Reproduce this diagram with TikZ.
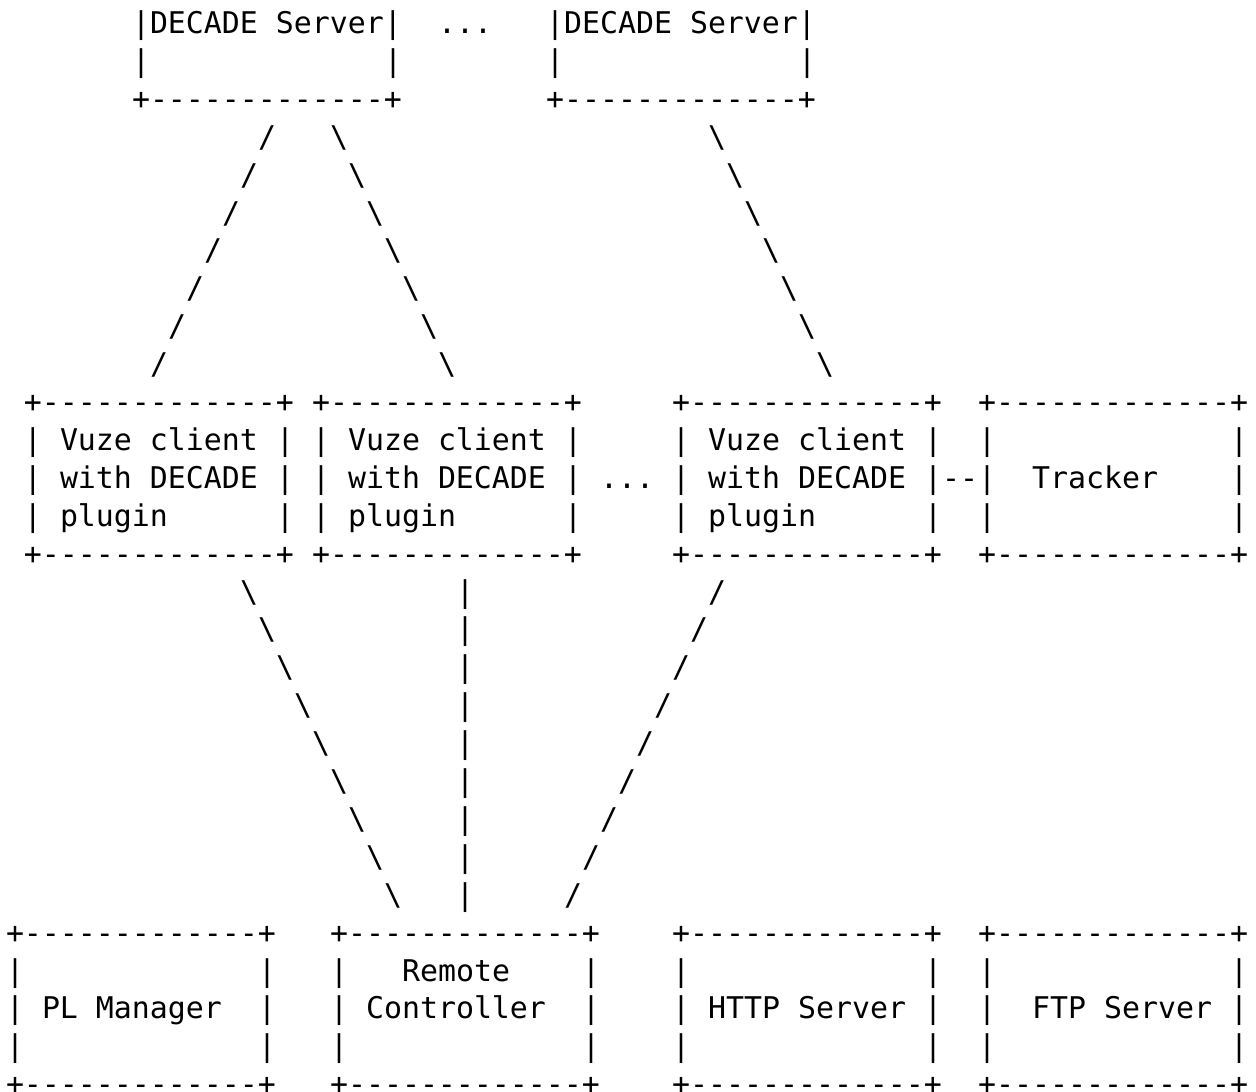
\documentclass[tikz,border=0pt]{standalone}
\usepackage{fontspec}
\setmonofont{DejaVu Sans Mono}
\newcommand\dsh{\hbox{-}}
\newcommand\border{+\dsh\dsh\dsh\dsh\dsh\dsh\dsh\dsh\dsh\dsh\dsh\dsh\dsh+}
\tikzset{txt/.style={anchor=base west, inner sep=0pt, outer sep=0pt,
  font=\ttfamily\fontsize{14.949pt}{19pt}\selectfont}}
\newcommand\asciibox[3]{%
  \node[txt] (#1-t) at (#2,#3) {\border};
  \foreach \k in {1,2,3}{%
    \node[txt] (#1-l\k) at (#2,{#3+\k}) {|};
    \node[txt] (#1-r\k) at ({#2+14},{#3+\k}) {|};
  }
  \node[txt] (#1-b) at (#2,{#3+4}) {\border};
}
\begin{document}
\begin{tikzpicture}[x=9pt,y=-18.95pt]
\useasboundingbox (-0.33333,-0.88391) rectangle (69.44444,27.90237);
% top servers (partially shown)
\node[txt] (ds1) at (7,0) {|DECADE Server|};
\node[txt] (dsdots) at (24,0) {...};
\node[txt] (ds2) at (30,0) {|DECADE Server|};
\foreach \c/\n in {7/ds1, 30/ds2} {
  \node[txt] (\n-l) at (\c,1) {|};
  \node[txt] (\n-r) at ({\c+14},1) {|};
  \node[txt] (\n-b) at (\c,2) {\border};
}
% middle row
\asciibox{vz1}{1}{10}
\asciibox{vz2}{17}{10}
\asciibox{vz3}{37}{10}
\asciibox{trk}{54}{10}
\foreach \c/\n in {1/vz1,17/vz2,37/vz3} {
  \node[txt] (\n-a) at ({\c+2},11) {Vuze client};
  \node[txt] (\n-w) at ({\c+2},12) {with DECADE};
  \node[txt] (\n-p) at ({\c+2},13) {plugin};
}
\node[txt] (vzdots) at (33,12) {...};
\node[txt] (vzlink) at (52,12) {\dsh\dsh};
\node[txt] (trk-txt) at (57,12) {Tracker};
% bottom row
\asciibox{plm}{0}{24}
\asciibox{rc}{18}{24}
\asciibox{http}{37}{24}
\asciibox{ftp}{54}{24}
\node[txt] (plm-txt) at (2,26) {PL Manager};
\node[txt] (rc-txt1) at (22,25) {Remote};
\node[txt] (rc-txt2) at (20,26) {Controller};
\node[txt] (http-txt) at (39,26) {HTTP Server};
\node[txt] (ftp-txt) at (57,26) {FTP Server};
% connectors drawn as characters
\foreach \j in {3,...,9} {
  \node[txt] (ca-\j) at ({17-\j},\j) {/};
  \node[txt] (cb-\j) at ({15+\j},\j) {\textbackslash};
  \node[txt] (cc-\j) at ({36+\j},\j) {\textbackslash};
}
\foreach \j in {15,...,23} {
  \node[txt] (cd-\j) at ({\j-2},\j) {\textbackslash};
  \node[txt] (ce-\j) at (25,\j) {|};
  \node[txt] (cf-\j) at ({54-\j},\j) {/};
}
\end{tikzpicture}
\end{document}
